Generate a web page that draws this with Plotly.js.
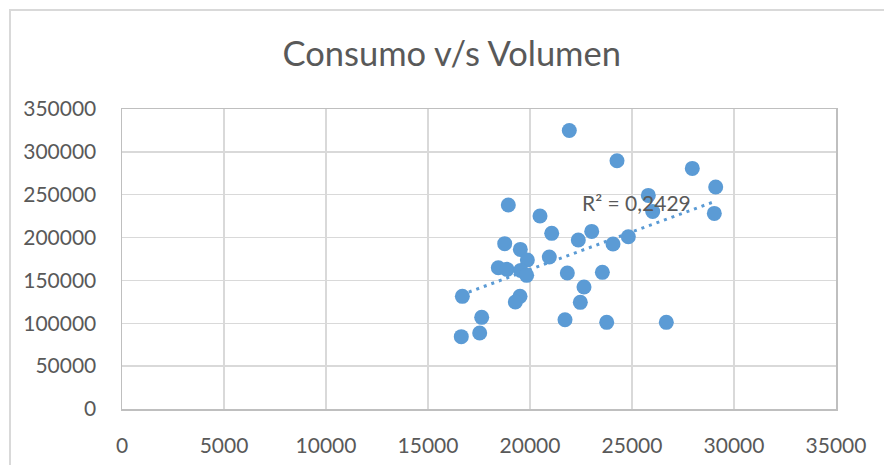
<!DOCTYPE html>
<html>
<head>
<meta charset="utf-8">
<script src="https://cdn.plot.ly/plotly-3.0.1.min.js"></script>
<style>
html,body{margin:0;padding:0;background:#fff;}
#chart{position:absolute;left:0;top:0;width:884px;height:465px;}
#frame{position:absolute;left:9px;top:9px;width:875px;height:456px;border-left:2px solid #d9d9d9;border-top:2px solid #d9d9d9;pointer-events:none;z-index:10;box-sizing:border-box;}
</style>
</head>
<body>
<div id="chart"></div>
<div id="frame"></div>
<script>
// Volumen (x) and Consumo (y)
const volumen = [21926, 24265, 27956, 29103, 25800, 26015, 29035, 18937, 20490, 21064,
                 23025, 22368, 24820, 24069, 18760, 19525, 19870, 20946, 18446, 18873,
                 19543, 19837, 21830, 23547, 16684, 19510, 19281, 22647, 22466, 17632,
                 21716, 23760, 26682, 17534, 16632];
const consumo = [325000, 289700, 280700, 259000, 249200, 230500, 228200, 238000, 225200, 204900,
                 207200, 197200, 201000, 192500, 192900, 186200, 173800, 177300, 164800, 162900,
                 161700, 155900, 158600, 159400, 131400, 131400, 124800, 142300, 124400, 106900,
                 104200, 101100, 101100, 88700, 84400];
const titleText = "Consumo v/s Volumen";
const r2Label = "R² = 0,2429";
const xTicks = [0, 5000, 10000, 15000, 20000, 25000, 30000, 35000];
const yTicks = [0, 50000, 100000, 150000, 200000, 250000, 300000, 350000];

// linear least-squares trendline over the data range
const n = volumen.length;
const mx = volumen.reduce((a,b)=>a+b,0)/n;
const my = consumo.reduce((a,b)=>a+b,0)/n;
let sxy=0, sxx=0;
for (let i=0;i<n;i++){ sxy+=(volumen[i]-mx)*(consumo[i]-my); sxx+=(volumen[i]-mx)**2; }
const slope = sxy/sxx, icpt = my - slope*mx;
const xmin = Math.min(...volumen), xmax = Math.max(...volumen);
const trendX = [xmin, xmax];
const trendY = trendX.map(v => icpt + slope*v);

const color = '#5b9bd5';
const txt = '#595959';
const fontFam = 'Lato, "Open Sans", sans-serif';

const traces = [
  {x: trendX, y: trendY, type: 'scatter', mode: 'lines',
   line: {color: color, width: 3, dash: '3px,5px'}, hoverinfo: 'skip', showlegend: false},
  {x: volumen, y: consumo, type: 'scatter', mode: 'markers',
   marker: {color: color, size: 15, line: {width: 0}}, showlegend: false}
];

const layout = {
  width: 884, height: 465,
  margin: {l: 122, r: 48, t: 109, b: 56},
  paper_bgcolor: '#ffffff', plot_bgcolor: '#ffffff',
  font: {family: fontFam, color: txt},
  title: {text: titleText, font: {family: fontFam, size: 34.5, color: txt},
          x: 0.511, xanchor: 'center', y: 0.885, yanchor: 'middle'},
  xaxis: {range: [0, 35000], tickvals: xTicks, ticktext: xTicks.map(String),
          showgrid: true, gridcolor: '#d9d9d9', gridwidth: 1.5,
          showline: true, linecolor: '#bfbfbf', linewidth: 1.5, mirror: true,
          zeroline: false, ticks: '', ticklabelstandoff: 17,
          tickfont: {family: fontFam, size: 21, color: txt}},
  yaxis: {range: [0, 350000], tickvals: yTicks, ticktext: yTicks.map(String),
          showgrid: true, gridcolor: '#d9d9d9', gridwidth: 1.5,
          showline: true, linecolor: '#bfbfbf', linewidth: 1.5, mirror: true,
          zeroline: false, ticks: '', ticklabelstandoff: 20,
          tickfont: {family: fontFam, size: 21, color: txt}},
  annotations: [{x: 25196, y: 240700, xref: 'x', yref: 'y', text: r2Label,
                 showarrow: false, xanchor: 'center', yanchor: 'middle',
                 font: {family: fontFam, size: 21, color: txt}}]
};

Plotly.newPlot('chart', traces, layout, {displayModeBar: false, staticPlot: true});
</script>
</body>
</html>
